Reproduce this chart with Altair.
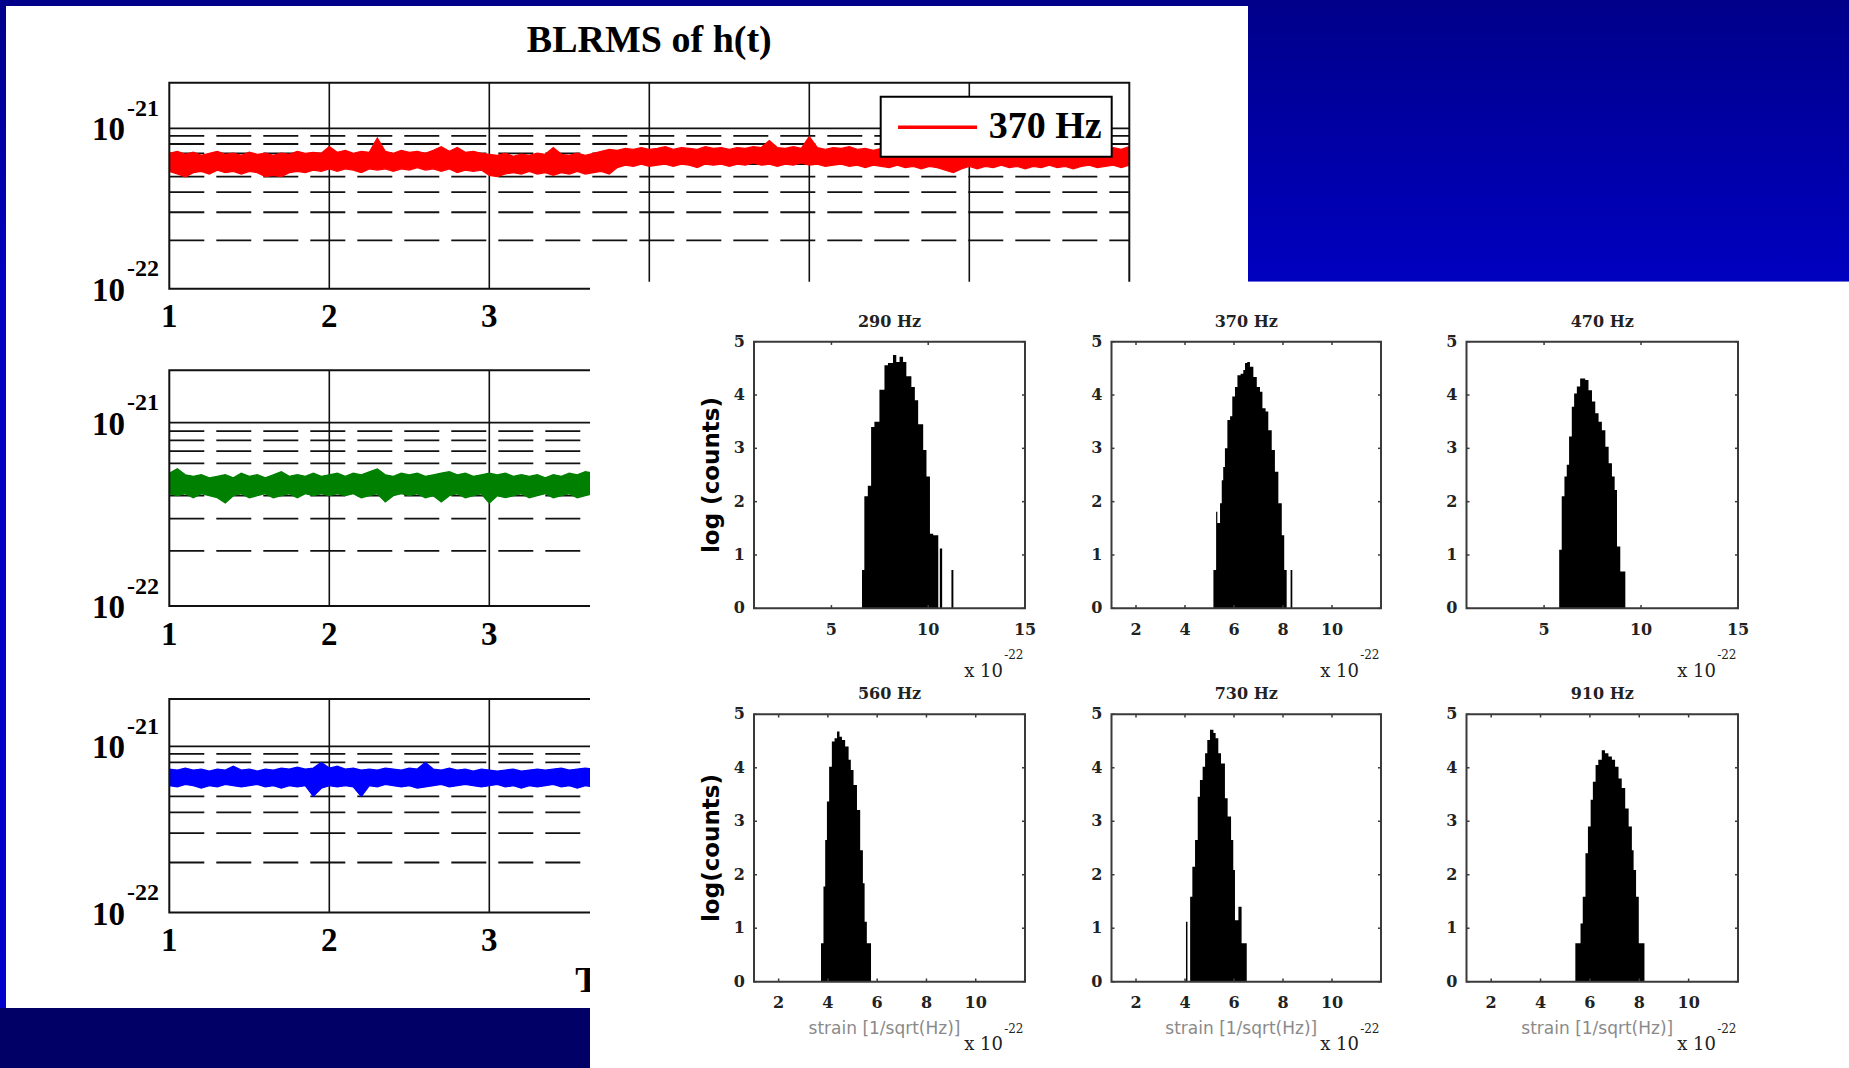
import altair as alt
import pandas as pd

W, H = 1849, 1068

# ================= DATA =================
# BLRMS of h(t): upper / lower edge of the noisy band (units of 1e-22), one sample every 0.05 time units
T_START, T_STEP = 1.0, 0.05
legend_label = "370 Hz"

red_hi = [7.0, 7.2, 6.9, 7.1, 6.8, 7.0, 7.2, 6.9, 7.0, 6.8,
          7.1, 6.9, 7.0, 6.8, 7.0, 6.9, 7.2, 7.0, 7.1, 7.0,
          7.7, 7.1, 7.3, 7.0, 7.2, 7.1, 8.7, 7.2, 7.0, 7.3,
          7.1, 7.2, 7.0, 7.3, 7.7, 7.2, 7.6, 7.1, 7.2, 7.0,
          6.9, 6.8, 7.0, 6.7, 6.9, 6.8, 7.0, 6.9, 7.6, 6.9,
          6.8, 7.0, 6.8, 7.0, 7.2, 7.4, 7.3, 7.5, 7.4, 7.6,
          7.4, 7.5, 7.7, 7.4, 7.6, 7.5, 7.4, 7.7, 7.5, 7.6,
          7.4, 7.6, 7.5, 7.7, 7.6, 8.4, 7.6, 7.5, 7.7, 7.5,
          8.9, 7.6, 7.4, 7.6, 7.5, 7.7, 7.4, 7.5, 7.3, 7.5,
          7.3, 7.4, 7.2, 7.4, 7.3, 7.5, 7.2, 7.3, 7.1, 7.3,
          7.4, 7.2, 7.3, 7.1, 7.4, 7.2, 7.3, 7.5, 7.2, 7.3,
          7.1, 7.4, 7.2, 7.3, 7.4, 7.2, 7.4, 7.5, 7.6, 7.4,
          7.7]
red_lo = [5.4, 5.2, 5.0, 5.3, 5.4, 5.2, 5.5, 5.3, 5.4, 5.2,
          5.4, 5.3, 5.0, 5.1, 5.0, 5.3, 5.4, 5.3, 5.5, 5.4,
          5.6, 5.4, 5.6, 5.5, 5.3, 5.6, 5.5, 5.6, 5.4, 5.6,
          5.5, 5.7, 5.5, 5.6, 5.4, 5.6, 5.3, 5.5, 5.4, 5.5,
          5.1, 5.0, 5.2, 5.3, 5.2, 5.4, 5.2, 5.3, 5.1, 5.3,
          5.2, 5.4, 5.2, 5.3, 5.4, 5.2, 5.7, 5.9, 5.8, 6.0,
          5.8, 5.9, 6.0, 5.8, 6.0, 5.9, 5.7, 6.0, 5.9, 6.0,
          5.8, 6.0, 5.9, 6.1, 5.9, 6.0, 5.8, 6.0, 5.9, 6.1,
          5.9, 6.0, 5.8, 5.9, 6.0, 5.8, 5.9, 5.7, 5.9, 5.8,
          5.7, 5.9, 5.7, 5.8, 5.6, 5.8, 5.7, 5.5, 5.3, 5.6,
          5.8, 5.6, 5.8, 5.7, 5.9, 5.7, 5.8, 5.6, 5.8, 5.7,
          5.9, 5.7, 5.8, 5.6, 5.8, 5.9, 5.7, 5.8, 5.9, 5.7,
          5.9]
green_hi = [5.3, 5.6, 5.2, 5.1, 5.2, 5.0, 5.1, 5.2, 5.0, 5.3,
            5.1, 5.2, 5.0, 5.2, 5.4, 5.1, 5.2, 5.1, 5.3, 5.1,
            5.2, 5.3, 5.1, 5.3, 5.2, 5.4, 5.6, 5.2, 5.1, 5.3,
            5.2, 5.3, 5.1, 5.2, 5.3, 5.4, 5.2, 5.3, 5.1, 5.2,
            5.3, 5.2, 5.3, 5.1, 5.2, 5.1, 5.2, 5.0, 5.2, 5.1,
            5.3, 5.2, 5.4, 5.3]
green_lo = [4.1, 4.0, 4.1, 3.9, 4.1, 4.0, 3.9, 3.65, 4.0, 4.1,
            3.9, 4.0, 4.1, 3.9, 4.0, 4.1, 3.9, 4.1, 4.0, 4.1,
            4.0, 4.1, 4.0, 4.1, 3.9, 4.0, 4.1, 3.7, 4.0, 4.1,
            4.0, 4.1, 3.9, 4.0, 3.7, 4.0, 4.1, 3.9, 4.0, 4.1,
            3.65, 4.0, 3.9, 4.0, 4.1, 3.9, 4.0, 4.1, 3.9, 4.0,
            4.1, 3.9, 4.0, 4.1]
blue_hi = [7.3, 7.2, 7.4, 7.2, 7.3, 7.1, 7.3, 7.2, 7.6, 7.2,
           7.3, 7.1, 7.3, 7.2, 7.4, 7.3, 7.5, 7.3, 7.4, 8.0,
           7.4, 7.6, 7.3, 7.4, 7.2, 7.3, 7.2, 7.4, 7.3, 7.2,
           7.4, 7.3, 8.0, 7.3, 7.2, 7.4, 7.2, 7.3, 7.1, 7.3,
           7.2, 7.1, 7.2, 7.3, 7.1, 7.2, 7.3, 7.2, 7.3, 7.4,
           7.2, 7.3, 7.4, 7.3]
blue_lo = [5.8, 5.7, 5.9, 5.8, 5.6, 5.8, 5.7, 5.9, 5.8, 5.7,
           5.8, 5.9, 5.7, 5.8, 5.6, 5.8, 5.7, 5.8, 5.0, 5.6,
           5.8, 5.7, 5.8, 5.7, 5.0, 5.8, 5.7, 5.9, 5.8, 5.7,
           5.8, 5.6, 5.7, 5.8, 5.9, 5.7, 5.8, 5.9, 5.8, 5.7,
           5.8, 5.9, 5.7, 5.8, 5.6, 5.8, 5.7, 5.8, 5.9, 5.7,
           5.8, 5.6, 5.8, 5.7]

ts_xticks_top = [1, 2, 3, 4, 5, 6, 7]
ts_xticks_lower = [1, 2, 3]          # the rest are covered by the histogram sheet
ts_ylabels = [1, 10]                 # 10^-22 and 10^-21 (in units of 1e-22)
ts_exponents = ["-22", "-21"]
ts_vgrid = [2, 3, 4, 5, 6]
ts_major = [10]
ts_minor = [2, 3, 4, 5, 6, 7, 8, 9]
ts_title = "BLRMS of h(t)"
ts_xtitle = "Time (hr)"

# Histograms: bin edges (x 1e-22) and log10(counts)
hist_titles = ["290 Hz", "370 Hz", "470 Hz", "560 Hz", "730 Hz", "910 Hz"]
hist_edges = [
    [6.58, 6.70, 6.88, 7.05, 7.22, 7.48, 7.74, 7.92, 8.18, 8.35, 8.52, 8.70, 8.87,
     9.13, 9.31, 9.48, 9.74, 9.91, 10.09, 10.26, 10.52, 10.60, 10.72, 11.20, 11.30],
    [5.16, 5.27, 5.32, 5.43, 5.50, 5.56, 5.63, 5.73, 5.84, 5.93, 6.04, 6.14, 6.27,
     6.38, 6.45, 6.54, 6.65, 6.79, 6.93, 7.06, 7.16, 7.29, 7.40, 7.54, 7.67, 7.81,
     7.95, 8.05, 8.15, 8.31, 8.38],
    [5.78, 5.91, 6.05, 6.17, 6.29, 6.43, 6.55, 6.69, 6.86, 7.12, 7.29, 7.47, 7.64,
     7.81, 7.98, 8.16, 8.33, 8.50, 8.64, 8.76, 8.93, 9.19],
    [3.72, 3.82, 3.89, 3.96, 4.05, 4.16, 4.27, 4.37, 4.47, 4.57, 4.70, 4.84, 4.93,
     5.04, 5.18, 5.31, 5.42, 5.49, 5.58, 5.75],
    [4.04, 4.10, 4.21, 4.30, 4.41, 4.52, 4.61, 4.72, 4.82, 4.91, 5.02, 5.16, 5.25,
     5.36, 5.47, 5.63, 5.74, 5.88, 5.97, 6.04, 6.18, 6.31, 6.52],
    [5.41, 5.62, 5.71, 5.82, 5.92, 6.03, 6.12, 6.23, 6.34, 6.48, 6.61, 6.75, 6.89,
     7.02, 7.16, 7.29, 7.43, 7.57, 7.70, 7.77, 7.87, 7.98, 8.21],
]
hist_logc = [
    [0.72, 2.1, 2.3, 3.4, 3.5, 4.1, 4.56, 4.6, 4.75, 4.62, 4.72, 4.62, 4.35, 4.15,
     3.9, 3.45, 2.97, 2.47, 1.4, 1.37, 0, 1.12, 0, 0.72],
    [0.72, 1.81, 1.6, 1.97, 2.4, 2.65, 3.0, 3.53, 3.6, 3.97, 4.15, 4.37, 4.4, 4.47,
     4.6, 4.62, 4.53, 4.34, 4.15, 4.06, 3.75, 3.69, 3.34, 2.97, 2.56, 1.97, 1.37,
     0.72, 0, 0.72],
    [1.1, 2.1, 2.47, 2.69, 3.22, 3.78, 4.03, 4.16, 4.31, 4.28, 4.09, 3.88, 3.66, 3.5,
     3.34, 3.03, 2.72, 2.47, 2.22, 1.16, 0.69],
    [0.72, 1.78, 2.65, 3.37, 4.02, 4.49, 4.55, 4.68, 4.58, 4.52, 4.4, 4.15, 3.96,
     3.68, 3.21, 2.46, 1.84, 1.12, 0.72],
    [1.12, 0, 1.59, 2.15, 2.65, 3.46, 3.77, 4.02, 4.27, 4.52, 4.71, 4.65, 4.55, 4.27,
     4.08, 3.43, 3.09, 2.65, 2.09, 1.15, 1.4, 0.72],
    [0.72, 1.09, 1.59, 2.4, 2.9, 3.4, 3.74, 4.05, 4.15, 4.33, 4.27, 4.21, 4.15, 4.02,
     3.8, 3.62, 3.24, 2.9, 2.46, 2.09, 1.59, 0.72],
]
hist_xdomain = [[1, 15], [1, 12], [1, 15], [1, 12], [1, 12], [1, 12]]
hist_xticks = [[5, 10, 15], [2, 4, 6, 8, 10], [5, 10, 15],
               [2, 4, 6, 8, 10], [2, 4, 6, 8, 10], [2, 4, 6, 8, 10]]
hist_yticks = [0, 1, 2, 3, 4, 5]
hist_ytitles = ["log (counts)", "", "", "log(counts)", "", ""]
hist_xlabel = "strain [1/sqrt(Hz)]"

# ================= STYLE / LAYOUT =================
SERIF = "Liberation Serif"
HSERIF = "DejaVu Serif"
HSANS = "DejaVu Sans"
INK = "#111111"
HINK = "#222222"

TS_X = (169.3, 1129.3)
TS_Y = [(288.7, 82.7), (606.1, 370.3), (912.5, 698.9)]
TS_YMAX = 19.3
H_COLS = [(754.0, 1025.0), (1111.5, 1381.0), (1466.5, 1738.0)]
H_ROWS = [(608.3, 341.7), (981.7, 714.3)]

dummy = pd.DataFrame({"d": [0]})


def vgrad(stops):
    return alt.LinearGradient(
        gradient="linear", x1=0, y1=0, x2=0, y2=1,
        stops=[alt.GradientStop(color=c, offset=o) for o, c in stops])


def deco(x0, x1, y0, y1, color):
    return alt.Chart(dummy).mark_rect(color=color).encode(
        x=alt.value(x0), x2=alt.value(x1), y=alt.value(y0), y2=alt.value(y1))


def ts_panel(hi, lo, color, yr, xticks, legend=False, title=False, xtitle=False):
    t = [round(T_START + T_STEP * i, 2) for i in range(len(hi))]
    df = pd.DataFrame({"t": t, "hi": hi, "lo": lo, "band": legend_label})
    xs = alt.Scale(domain=[1, 7], range=list(TS_X), nice=False, zero=False)
    ys = alt.Scale(type="log", domain=[1, TS_YMAX], range=list(yr), nice=False)
    XD = lambda v: alt.XDatum(v, scale=xs, axis=None)
    YD = lambda v: alt.YDatum(v, scale=ys, axis=None)
    XF = lambda f: alt.X(f, scale=xs, axis=None)
    YF = lambda f: alt.Y(f, scale=ys, axis=None)

    vgrid = alt.Chart(pd.DataFrame({"x": ts_vgrid})).mark_rule(
        color=INK, strokeWidth=1.6).encode(x=XF("x:Q"), y=YD(1), y2=alt.Y2Datum(TS_YMAX))
    major = alt.Chart(pd.DataFrame({"y": ts_major})).mark_rule(
        color=INK, strokeWidth=1.8).encode(x=XD(1), x2=alt.X2Datum(7), y=YF("y:Q"))
    minor = alt.Chart(pd.DataFrame({"y": ts_minor})).mark_rule(
        color=INK, strokeWidth=1.8, strokeDash=[35, 12]).encode(
        x=XD(1), x2=alt.X2Datum(7), y=YF("y:Q"))
    area = alt.Chart(df).mark_area(color=color, opacity=1).encode(
        x=XF("t:Q"), y=YF("lo:Q"), y2="hi:Q")
    edge_lo = alt.Chart(df).mark_line(color=color, strokeWidth=1.3).encode(
        x=XF("t:Q"), y=YF("lo:Q"))
    if legend:
        edge_hi = alt.Chart(df).mark_line(strokeWidth=1.3).encode(
            x=XF("t:Q"), y=YF("hi:Q"),
            color=alt.Color("band:N",
                            scale=alt.Scale(domain=[legend_label], range=[color]),
                            legend=alt.Legend(
                                title=None, orient="none", legendX=880.7, legendY=96.7,
                                symbolType="M-0.71,0H3.56", symbolSize=1369,
                                symbolStrokeWidth=3.5, labelFont=SERIF,
                                labelFontWeight="bold", labelFontSize=38,
                                labelColor="black", labelOffset=57, padding=10,
                                fillColor="white", strokeColor="black")))
    else:
        edge_hi = alt.Chart(df).mark_line(color=color, strokeWidth=1.3).encode(
            x=XF("t:Q"), y=YF("hi:Q"))
    frame = alt.Chart(dummy).mark_rect(
        fill="transparent", stroke=INK, strokeWidth=2).encode(
        x=XD(1), x2=alt.X2Datum(7), y=YD(1), y2=alt.Y2Datum(TS_YMAX))
    # tick labels (drawn as text through the scales)
    xlab = alt.Chart(pd.DataFrame({"v": xticks})).mark_text(
        font=SERIF, fontWeight="bold", fontSize=33, color="black",
        align="center", baseline="top", dy=12.5).encode(
        x=XF("v:Q"), y=YD(1), text=alt.Text("v:Q", format="d"))
    ylab = alt.Chart(pd.DataFrame({"v": ts_ylabels})).mark_text(
        text="10", font=SERIF, fontWeight="bold", fontSize=33, color="black",
        align="right", baseline="middle", dx=-44.3, dy=2).encode(
        x=XD(1), y=YF("v:Q"))
    expo = alt.Chart(pd.DataFrame({"v": ts_ylabels, "e": ts_exponents})).mark_text(
        font=SERIF, fontWeight="bold", fontSize=24, color="black",
        align="left", baseline="middle", dx=-42.3, dy=-19.5).encode(
        x=XD(1), y=YF("v:Q"), text="e:N")
    layers = [vgrid, major, minor, area, edge_lo, edge_hi, frame, xlab, ylab, expo]
    if title:
        layers.append(alt.Chart(dummy).mark_text(
            text=ts_title, font=SERIF, fontWeight="bold", fontSize=38,
            color="black", align="center", baseline="alphabetic", dy=-30.7).encode(
            x=XD(4), y=YD(TS_YMAX)))
    if xtitle:
        layers.append(alt.Chart(dummy).mark_text(
            text=ts_xtitle, font=SERIF, fontWeight="bold", fontSize=36,
            color="black", align="center", baseline="top", dy=51).encode(
            x=XD(4), y=YD(1)))
    return alt.layer(*layers)


def hist_panel(i):
    r, c = divmod(i, 3)
    xr, yr = H_COLS[c], H_ROWS[r]
    xdom, xt = hist_xdomain[i], hist_xticks[i]
    edges, logc = hist_edges[i], hist_logc[i]
    df = pd.DataFrame({"x": edges, "h": logc + [logc[-1]]})
    xs = alt.Scale(domain=xdom, range=list(xr), nice=False, zero=False)
    ys = alt.Scale(domain=[0, 5], range=list(yr), nice=False, zero=False)
    XD = lambda v: alt.XDatum(v, scale=xs, axis=None)
    YD = lambda v: alt.YDatum(v, scale=ys, axis=None)
    XF = lambda f: alt.X(f, scale=xs, axis=None)
    YF = lambda f: alt.Y(f, scale=ys, axis=None)

    bars = alt.Chart(df).mark_area(color="black", interpolate="step-after",
                                   opacity=1).encode(
        x=XF("x:Q"), y=YF("h:Q"), y2=alt.Y2Datum(0))

    tly = 0.06
    tlx = 3.0 * (xdom[1] - xdom[0]) / (xr[1] - xr[0])
    n, ny = len(xt), len(hist_yticks)
    xt_df = pd.DataFrame({"x": xt + xt, "ya": [0] * n + [5 - tly] * n,
                          "yb": [tly] * n + [5] * n})
    yt_df = pd.DataFrame({"y": hist_yticks * 2,
                          "xa": [xdom[0]] * ny + [xdom[1] - tlx] * ny,
                          "xb": [xdom[0] + tlx] * ny + [xdom[1]] * ny})
    xticks = alt.Chart(xt_df).mark_rule(color="#3a3a3a", strokeWidth=1.5).encode(
        x=XF("x:Q"), y=YF("ya:Q"), y2="yb:Q")
    yticks = alt.Chart(yt_df).mark_rule(color="#3a3a3a", strokeWidth=1.5).encode(
        x=XF("xa:Q"), x2="xb:Q", y=YF("y:Q"))
    frame = alt.Chart(dummy).mark_rect(
        fill="transparent", stroke="#3a3a3a", strokeWidth=2).encode(
        x=XD(xdom[0]), x2=alt.X2Datum(xdom[1]), y=YD(0), y2=alt.Y2Datum(5))
    xlab = alt.Chart(pd.DataFrame({"v": xt})).mark_text(
        font=HSERIF, fontWeight="bold", fontSize=16, color=HINK,
        align="center", baseline="top", dy=13.5).encode(
        x=XF("v:Q"), y=YD(0), text=alt.Text("v:Q", format="d"))
    ylab = alt.Chart(pd.DataFrame({"v": hist_yticks})).mark_text(
        font=HSERIF, fontWeight="bold", fontSize=16, color=HINK,
        align="right", baseline="middle", dx=-9).encode(
        x=XD(xdom[0]), y=YF("v:Q"), text=alt.Text("v:Q", format="d"))
    ttl = alt.Chart(dummy).mark_text(
        text=hist_titles[i], font=HSERIF, fontWeight="bold", fontSize=16, color=HINK,
        align="center", baseline="alphabetic", dy=-15).encode(
        x=XD((xdom[0] + xdom[1]) / 2), y=YD(5))
    x10 = alt.Chart(dummy).mark_text(
        text="x 10", font=HSERIF, fontSize=18, color=HINK, align="right",
        baseline="alphabetic", dx=-22, dy=68.5).encode(x=XD(xdom[1]), y=YD(0))
    xexp = alt.Chart(dummy).mark_text(
        text="-22", font=HSERIF, fontSize=12, color=HINK, align="right",
        baseline="alphabetic", dx=-1.5, dy=51).encode(x=XD(xdom[1]), y=YD(0))
    layers = [bars, xticks, yticks, frame, xlab, ylab, ttl, x10, xexp]
    if r == 1:
        layers.append(alt.Chart(dummy).mark_text(
            text=hist_xlabel, font=HSANS, fontSize=17, color="#8a8a8a",
            align="center", baseline="middle", dx=-5, dy=47.5).encode(
            x=XD((xdom[0] + xdom[1]) / 2), y=YD(0)))
    if hist_ytitles[i]:
        layers.append(alt.Chart(dummy).mark_text(
            text=hist_ytitles[i], font=HSANS, fontWeight="bold", fontSize=23,
            color="black", angle=270, align="center", baseline="middle",
            dy=-42.3).encode(x=XD(xdom[0]), y=YD(2.5)))
    return alt.layer(*layers)


slide = [
    deco(0, 1248, 0, 6, "#00008a"),
    deco(0, 6, 0, 1008, vgrad([(0, "#00008a"), (0.28, "#0000c0"), (1, "#0000cc")])),
    deco(1248, W, 0, 281.7, vgrad([(0, "#00008a"), (1, "#0000c0")])),
    deco(0, 590, 1008, H, "#000066"),
]

panels = [
    ts_panel(red_hi, red_lo, "#ff0000", TS_Y[0], ts_xticks_top, legend=True, title=True),
    ts_panel(green_hi, green_lo, "#008000", TS_Y[1], ts_xticks_lower),
    ts_panel(blue_hi, blue_lo, "#0000ff", TS_Y[2], ts_xticks_lower, xtitle=True),
    deco(590, W, 281.7, H, "white"),
] + [hist_panel(i) for i in range(6)]

chart = alt.layer(*(slide + panels)).resolve_scale(
    x="independent", y="independent"
).properties(
    width=W, height=H, padding=0, background="white",
    autosize=alt.AutoSizeParams(type="none"),
).configure_view(stroke="transparent").configure_legend(strokeWidth=2)

chart.save("out.html", embed_options={"renderer": "svg", "actions": False})
